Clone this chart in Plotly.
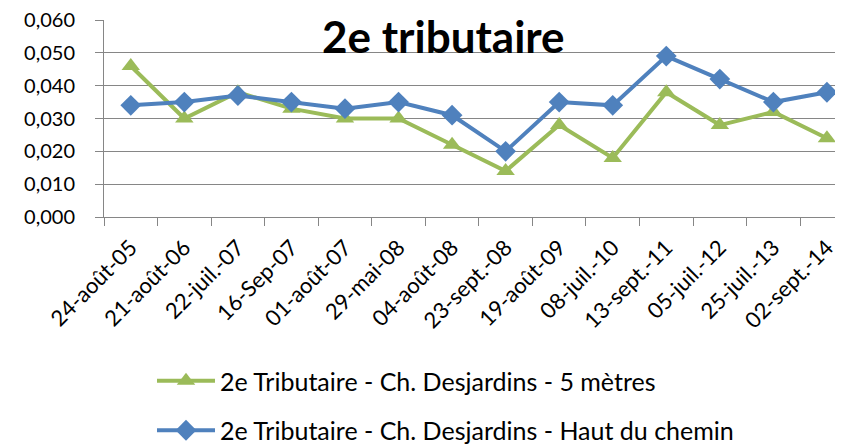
import plotly.graph_objects as go

categories = ["24-août-05", "21-août-06", "22-juil.-07", "16-Sep-07", "01-août-07",
              "29-mai-08", "04-août-08", "23-sept.-08", "19-août-09", "08-juil.-10",
              "13-sept.-11", "05-juil.-12", "25-juil.-13", "02-sept.-14"]
green_name = "2e Tributaire - Ch. Desjardins - 5 mètres"
green_vals = [0.046, 0.030, 0.038, 0.033, 0.030, 0.030, 0.022, 0.014, 0.028, 0.018,
              0.038, 0.028, 0.032, 0.024]
blue_name = "2e Tributaire - Ch. Desjardins - Haut du chemin"
blue_vals = [0.034, 0.035, 0.037, 0.035, 0.033, 0.035, 0.031, 0.020, 0.035, 0.034,
             0.049, 0.042, 0.035, 0.038]
title_text = "2e tributaire"
y_ticks = [0.0, 0.01, 0.02, 0.03, 0.04, 0.05, 0.06]

FONT = "Lato"
W, H = 843, 447
OFF = 8  # page body margin offset
# plot area bounds in screen pixels, converted to figure pixels
L, T, B, R = 104 - OFF, 20 - OFF, 217 - OFF, 843 - OFF
PW, PH = R - L, B - T


def px_x(x):
    return (x - OFF - L) / PW


def px_y(y):
    return (B - (y - OFF)) / PH


fig = go.Figure()
fig.add_trace(go.Scatter(x=categories, y=green_vals, name=green_name, mode="lines+markers",
                         line=dict(color="#9BBB59", width=4),
                         marker=dict(symbol="triangle-up", size=16, color="#9BBB59"),
                         legendgroup="g"))
fig.add_trace(go.Scatter(x=categories, y=blue_vals, name=blue_name, mode="lines+markers",
                         line=dict(color="#4F81BD", width=4),
                         marker=dict(symbol="diamond", size=16, color="#4F81BD"),
                         legendgroup="b"))

fig.update_layout(
    width=W, height=H,
    margin=dict(l=L, r=W - R, t=T, b=H - B, autoexpand=False),
    paper_bgcolor="white", plot_bgcolor="white",
    font=dict(family=FONT, size=20, color="black"),
    separators=",.",
    showlegend=True,
    legend=dict(x=px_x(152), y=px_y(358), xanchor="left", yanchor="top",
                font=dict(size=25), tracegroupgap=14, itemwidth=58,
                bgcolor="rgba(0,0,0,0)"),
    annotations=[dict(text="<b>" + title_text + "</b>", x=px_x(443), y=px_y(36),
                      xref="paper", yref="paper", xanchor="center", yanchor="middle",
                      showarrow=False,
                      font=dict(size=44, family=FONT, color="black"))],
)

fig.update_xaxes(type="category", range=[-0.5, 13.3], tickson="boundaries",
                 ticks="outside", ticklen=8, tickcolor="#868686",
                 showline=True, linecolor="#868686", linewidth=1,
                 showgrid=False, tickangle=-45, tickfont=dict(size=22),
                 ticklabelstandoff=8, ticklabeloverflow="allow",
                 automargin=False)
fig.update_yaxes(range=[0, 0.06], tickvals=y_ticks, tickformat=".3f",
                 ticks="outside", ticklen=8, tickcolor="#868686",
                 showline=True, linecolor="#868686", linewidth=1,
                 showgrid=True, gridcolor="#868686", gridwidth=1,
                 zeroline=False, tickfont=dict(size=20), ticklabelstandoff=16,
                 ticklabeloverflow="allow", automargin=False)

fig.write_html("out.html")
